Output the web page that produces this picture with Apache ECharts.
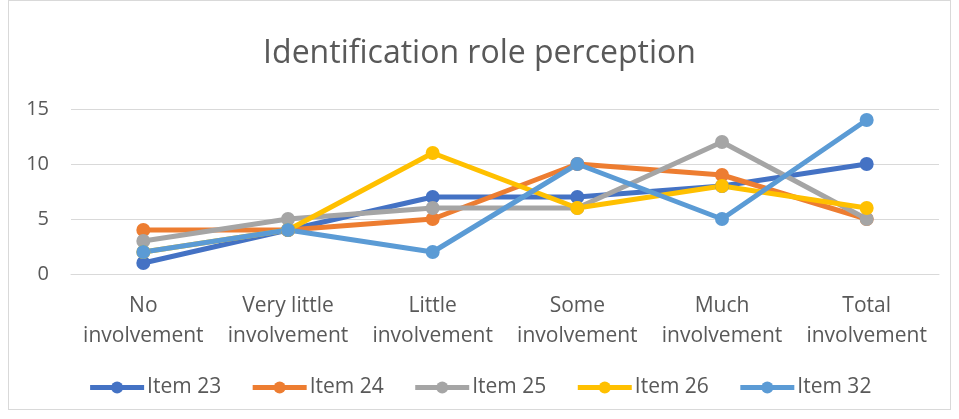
<!DOCTYPE html>
<html>
<head>
<meta charset="utf-8">
<script src="https://cdn.jsdelivr.net/npm/echarts@6/dist/echarts.min.js"></script>
<style>
  html, body { margin: 0; padding: 0; background: #fff; }
  #chart { width: 959px; height: 419px; }
  .frame { position: absolute; left: 8px; top: 0; width: 943px; height: 410px; border: 1px solid #d9d9d9; box-sizing: border-box; pointer-events: none; }
</style>
</head>
<body>
<div id="chart"></div>
<div class="frame"></div>
<script>
// 类目与系列数据
const categories = ['No\ninvolvement', 'Very little\ninvolvement', 'Little\ninvolvement', 'Some\ninvolvement', 'Much\ninvolvement', 'Total\ninvolvement']
const seriesNames = ['Item 23', 'Item 24', 'Item 25', 'Item 26', 'Item 32']
const item23 = [1, 4, 7, 7, 8, 10]
const item24 = [4, 4, 5, 10, 9, 5]
const item25 = [3, 5, 6, 6, 12, 5]
const item26 = [2, 4, 11, 6, 8, 6]
const item32 = [2, 4, 2, 10, 5, 14]
const colors = ['#4472c4', '#ed7d31', '#a5a5a5', '#ffc000', '#5b9bd5']

const font = '"Open Sans", Calibri, sans-serif'
const c = echarts.init(document.getElementById('chart'))
const values = [item23, item24, item25, item26, item32]

c.setOption({
  animation: false,
  title: {
    text: 'Identification role perception', left: 'center', top: 33,
    textStyle: { color: '#595959', fontSize: 32, fontWeight: 'normal', fontFamily: font },
  },
  legend: {
    data: seriesNames, bottom: 16, left: 'center', itemWidth: 54, itemHeight: 15, itemGap: 29,
    lineStyle: { width: 5 },
    textStyle: { color: '#595959', fontSize: 21, fontFamily: font, padding: [0, 0, 0, -2] },
  },
  grid: { top: 109, left: 71, right: 20, bottom: 145 },
  xAxis: {
    type: 'category', data: categories, boundaryGap: true,
    axisLine: { lineStyle: { color: '#d9d9d9', width: 1 } }, axisTick: { show: false },
    axisLabel: { color: '#595959', fontSize: 21, lineHeight: 30, margin: 17, fontFamily: font, interval: 0 },
  },
  yAxis: {
    type: 'value', min: 0, max: 15, interval: 5,
    axisLine: { show: false }, axisTick: { show: false },
    splitLine: { lineStyle: { color: '#d9d9d9', width: 1 } },
    axisLabel: { color: '#595959', fontSize: 20, margin: 22, fontFamily: font },
  },
  series: seriesNames.map((n, i) => ({
    name: n, type: 'line', data: values[i], symbol: 'circle', symbolSize: 14,
    lineStyle: { color: colors[i], width: 5 }, itemStyle: { color: colors[i] },
  })),
})
</script>
</body>
</html>
